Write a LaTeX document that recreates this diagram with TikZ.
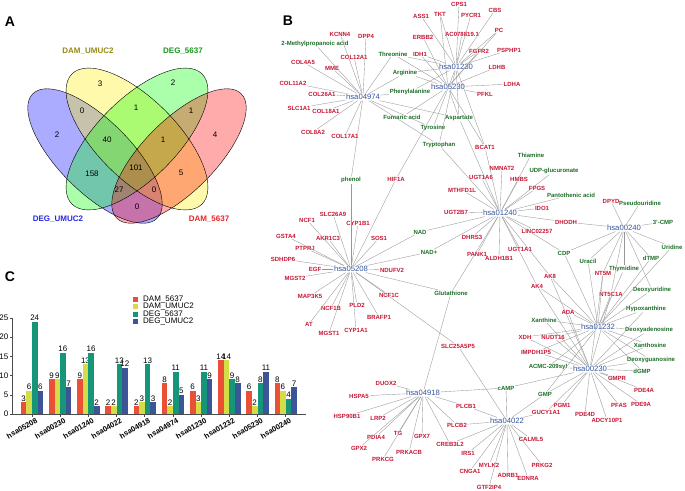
\documentclass[tikz,border=0pt]{standalone}
\usepackage{fontspec}
\setmainfont{Liberation Sans}
\usepackage{tikz}
\usetikzlibrary{arrows}
\usetikzlibrary{calc}

\definecolor{genered}{RGB}{200,22,52}
\definecolor{metgreen}{RGB}{30,110,40}
\definecolor{hubblue}{RGB}{55,85,155}
\definecolor{edgegray}{RGB}{150,150,150}
\definecolor{cdamf}{RGB}{235,80,55}
\definecolor{cdamu}{RGB}{212,220,72}
\definecolor{cdegf}{RGB}{22,150,120}
\definecolor{cdegu}{RGB}{60,85,150}
\definecolor{volive}{RGB}{150,140,20}
\definecolor{vgreen}{RGB}{30,150,30}
\definecolor{vblue}{RGB}{40,40,230}
\definecolor{vred}{RGB}{230,40,40}

\newcommand\genefont{\fontsize{6}{7}\selectfont\bfseries}
\newcommand\hubfont{\fontsize{7.7}{9}\selectfont}

\begin{document}
\begin{tikzpicture}[x=1pt,y=-1pt,
    gene node/.style={text=genered,font=\genefont,inner sep=0.6pt},
    met node/.style={text=metgreen,font=\genefont,inner sep=0.6pt},
    hub node/.style={text=hubblue,font=\hubfont,inner sep=0.6pt},
    link/.style={draw=edgegray,line width=0.35pt},
    panel label/.style={font=\bfseries\fontsize{14}{16}\selectfont},
    set label/.style={font=\bfseries\fontsize{8}{9}\selectfont},
    venn num/.style={font=\fontsize{8}{9}\selectfont},
    bar value/.style={font=\fontsize{8}{9}\selectfont,anchor=south,inner sep=0.8pt},
    tick label/.style={font=\fontsize{8}{9}\selectfont,inner sep=1pt}]
\fill[white] (0,0) rectangle (685,490);
\useasboundingbox (0,0) rectangle (685,490);

\node[panel label] (labA) at (10,22) {A};
\node[panel label] (labB) at (288,21) {B};
\node[panel label] (labC) at (10,277) {C};

% venn diagram
\begin{scope}[fill opacity=0.33]
\fill[blue] (95,156) ellipse [x radius=88pt,y radius=36pt,rotate=-45];
\fill[yellow] (137,139) ellipse [x radius=92pt,y radius=40pt,rotate=-45];
\fill[green] (137,139) ellipse [x radius=92pt,y radius=40pt,rotate=45];
\fill[red] (179,156) ellipse [x radius=88pt,y radius=36pt,rotate=45];
\end{scope}
\begin{scope}[line width=0.4pt]
\draw (95,156) ellipse [x radius=88pt,y radius=36pt,rotate=-45];
\draw (137,139) ellipse [x radius=92pt,y radius=40pt,rotate=-45];
\draw (137,139) ellipse [x radius=92pt,y radius=40pt,rotate=45];
\draw (179,156) ellipse [x radius=88pt,y radius=36pt,rotate=45];
\end{scope}
\node[set label,text=volive] (setDU) at (88,51) {DAM\_UMUC2};
\node[set label,text=vgreen] (setGF) at (183,51) {DEG\_5637};
\node[set label,text=vblue] (setGU) at (58,219) {DEG\_UMUC2};
\node[set label,text=vred] (setDF) at (209,219) {DAM\_5637};
\foreach \px/\py/\t [count=\j] in {100/84/3,173/83/2,82/111/0,136/108/1,191/111/1,57/135/2,107/140/40,163/140/1,215/135/4,92/174/158,136/168/101,181/173/5,119/190/27,154/190/0,137/207/0}
  \node[venn num] (vn\j) at (\px,\py) {\t};

% bar chart
\draw[line width=0.6pt,black!70] (12,414) -- (12,318);
\draw[line width=0.6pt,black!70] (12,414) -- (306,414);
\foreach \t in {0,5,...,25}{
  \draw[line width=0.6pt,black!70] (9.5,{414-3.84*\t}) -- (12,{414-3.84*\t});
  \node[tick label,anchor=east] (yt\t) at (9.5,{414-3.84*\t}) {\t};
}
\foreach \lab/\va/\vb/\vc/\vd [count=\i from 0] in {hsa05208/3/6/24/6,hsa00230/9/9/16/7,hsa01240/9/13/16/2,hsa04022/2/2/13/12,hsa04918/2/3/13/3,hsa04974/8/2/11/5,hsa01230/6/3/11/9,hsa01232/14/14/9/8,hsa05230/6/2/8/11,hsa00240/8/6/4/7}{
  \pgfmathsetmacro\gx{20.7+28.2*\i}
  \foreach \bv/\bc [count=\k from 0] in {\va/cdamf,\vb/cdamu,\vc/cdegf,\vd/cdegu}{
    \pgfmathsetmacro\bx{\gx+5.6*\k}
    \fill[fill=\bc] (\bx,414) rectangle ({\bx+5.6},{414-3.84*\bv});
    \node[bar value] (bv\i\k) at ({\bx+2.8},{414-3.84*\bv}) {\bv};
  }
  \draw[line width=0.6pt,black!70] ({\gx+11.2},414) -- ({\gx+11.2},416.5);
  \node[tick label,font=\bfseries\fontsize{7.5}{8.5}\selectfont,rotate=30,anchor=north east] (xl\i) at ({\gx+15},416) {\lab};
}
\foreach \n/\bc [count=\r from 0] in {DAM\_5637/cdamf,DAM\_UMUC2/cdamu,DEG\_5637/cdegf,DEG\_UMUC2/cdegu}{
  \fill[fill=\bc] (133,{296.5+7.6*\r}) rectangle ++(5,5);
  \node[tick label,anchor=west] (lg\r) at (142,{299+7.6*\r}) {\n};
}

% network: hubs
\node[hub node] (h04974) at (363,97) {hsa04974};
\node[hub node] (h01230) at (456,67) {hsa01230};
\node[hub node] (h05230) at (448,87) {hsa05230};
\node[hub node] (h05208) at (351,269) {hsa05208};
\node[hub node] (h01240) at (500,213) {hsa01240};
\node[hub node] (h00240) at (624,228) {hsa00240};
\node[hub node] (h01232) at (598,327) {hsa01232};
\node[hub node] (h00230) at (590,369) {hsa00230};
\node[hub node] (h04918) at (423,393) {hsa04918};
\node[hub node] (h04022) at (507,421) {hsa04022};

% genes
\node[gene node] (ass1) at (421,16) {ASS1};
\node[gene node] (tkt) at (440,14) {TKT};
\node[gene node] (cps1) at (459,4) {CPS1};
\node[gene node] (pycr1) at (471,15) {PYCR1};
\node[gene node] (cbs) at (495,10) {CBS};
\node[gene node] (ac078) at (462,34) {AC078819.1};
\node[gene node] (pc) at (499,30) {PC};
\node[gene node] (erbb2) at (423,37) {ERBB2};
\node[gene node] (idh1) at (420,54) {IDH1};
\node[gene node] (fgfr2) at (479,51) {FGFR2};
\node[gene node] (psphp1) at (509,50) {PSPHP1};
\node[gene node] (ldhb) at (497,67) {LDHB};
\node[gene node] (ldha) at (512,84) {LDHA};
\node[gene node] (pfkl) at (485,94) {PFKL};
\node[gene node] (bcat1) at (485,147) {BCAT1};
\node[gene node] (kcnn4) at (340,34) {KCNN4};
\node[gene node] (dpp4) at (366,36) {DPP4};
\node[gene node] (col12a1) at (354,57) {COL12A1};
\node[gene node] (col4a5) at (303,62) {COL4A5};
\node[gene node] (mme) at (332,68) {MME};
\node[gene node] (col11a2) at (293,83) {COL11A2};
\node[gene node] (col26a1) at (322,94) {COL26A1};
\node[gene node] (slc1a1) at (299,108) {SLC1A1};
\node[gene node] (col18a1) at (326,111) {COL18A1};
\node[gene node] (col8a2) at (313,132) {COL8A2};
\node[gene node] (col17a1) at (345,136) {COL17A1};
\node[gene node] (hif1a) at (396,179) {HIF1A};
\node[gene node] (slc26a9) at (333,214) {SLC26A9};
\node[gene node] (ncf1) at (307,220) {NCF1};
\node[gene node] (cyp1b1) at (358,223) {CYP1B1};
\node[gene node] (gsta4) at (286,236) {GSTA4};
\node[gene node] (akr1c3) at (328,238) {AKR1C3};
\node[gene node] (sos1) at (379,238) {SOS1};
\node[gene node] (ptprj) at (305,248) {PTPRJ};
\node[gene node] (sdhdp6) at (283,259) {SDHDP6};
\node[gene node] (egf) at (315,269) {EGF};
\node[gene node] (ndufv2) at (392,270) {NDUFV2};
\node[gene node] (mgst2) at (295,278) {MGST2};
\node[gene node,anchor=east] (map3k5) at (323,296) {MAP3K5};
\node[gene node] (ncf1c) at (389,295) {NCF1C};
\node[gene node] (ncf1b) at (331,308) {NCF1B};
\node[gene node] (pld2) at (357,305) {PLD2};
\node[gene node] (brafp1) at (379,317) {BRAFP1};
\node[gene node] (atgene) at (309,324) {AT};
\node[gene node] (mgst1) at (329,333) {MGST1};
\node[gene node] (cyp1a1) at (356,330) {CYP1A1};
\node[gene node] (slc25a5p5) at (458,346) {SLC25A5P5};
\node[gene node] (duox2) at (386,383) {DUOX2};
\node[gene node] (hspa5) at (359,396) {HSPA5};
\node[gene node] (hsp90b1) at (347,416) {HSP90B1};
\node[gene node] (lrp2) at (378,418) {LRP2};
\node[gene node] (pdia4) at (376,437) {PDIA4};
\node[gene node] (tg) at (398,433) {TG};
\node[gene node] (gpx7) at (422,436) {GPX7};
\node[gene node] (gpx2) at (359,448) {GPX2};
\node[gene node] (prkacb) at (409,452) {PRKACB};
\node[gene node] (prkcg) at (383,459) {PRKCG};
\node[gene node] (creb3l2) at (450,444) {CREB3L2};
\node[gene node] (plcb1) at (466,406) {PLCB1};
\node[gene node] (plcb2) at (457,425) {PLCB2};
\node[gene node] (irs1) at (468,453) {IRS1};
\node[gene node] (cnga1) at (470,471) {CNGA1};
\node[gene node] (gucy1a1) at (546,412) {GUCY1A1};
\node[gene node] (calml5) at (531,439) {CALML5};
\node[gene node] (mylk2) at (489,465) {MYLK2};
\node[gene node] (prkg2) at (542,465) {PRKG2};
\node[gene node] (adrb1) at (508,475) {ADRB1};
\node[gene node] (ednra) at (528,478) {EDNRA};
\node[gene node] (gtf2ip4) at (489,487) {GTF2IP4};
\node[gene node] (pgm1) at (562,405) {PGM1};
\node[gene node] (pde4d) at (585,414) {PDE4D};
\node[gene node] (adcy10p1) at (607,420) {ADCY10P1};
\node[gene node] (pfas) at (619,405) {PFAS};
\node[gene node] (pde9a) at (641,404) {PDE9A};
\node[gene node] (pde4a) at (644,390) {PDE4A};
\node[gene node] (gmpr) at (617,378) {GMPR};
\node[gene node] (impdh) at (536,352) {IMPDH1P5};
\node[gene node] (xdh) at (525,337) {XDH};
\node[gene node] (nudt16) at (553,337) {NUDT16};
\node[gene node] (ada) at (568,312) {ADA};
\node[gene node] (nmnat2) at (502,168) {NMNAT2};
\node[gene node] (ugt1a6) at (481,177) {UGT1A6};
\node[gene node] (hmbs) at (519,179) {HMBS};
\node[gene node] (fpgs) at (537,188) {FPGS};
\node[gene node] (mthfd1l) at (462,190) {MTHFD1L};
\node[gene node] (dpyd) at (611,201) {DPYD};
\node[gene node] (ugt2b7) at (456,212) {UGT2B7};
\node[gene node] (ido1) at (542,208) {IDO1};
\node[gene node] (dhodh) at (566,222) {DHODH};
\node[gene node] (linc) at (537,231) {LINC02257};
\node[gene node] (dhrs3) at (472,237) {DHRS3};
\node[gene node] (ugt1a1) at (520,249) {UGT1A1};
\node[gene node] (pank1) at (477,254) {PANK1};
\node[gene node] (aldh1b1) at (499,258) {ALDH1B1};
\node[gene node] (nt5m) at (603,273) {NT5M};
\node[gene node] (ak8) at (550,276) {AK8};
\node[gene node] (ak4) at (537,286) {AK4};
\node[gene node] (nt5c1a) at (611,294) {NT5C1A};

% metabolites
\node[met node] (mpa) at (315,44) {2-Methylpropanoic acid};
\node[met node] (thr) at (393,54) {Threonine};
\node[met node] (arg) at (405,73) {Arginine};
\node[met node] (phe) at (410,92) {Phenylalanine};
\node[met node] (fum) at (402,117) {Fumaric acid};
\node[met node] (asp) at (459,118) {Aspartate};
\node[met node] (tyr) at (433,128) {Tyrosine};
\node[met node] (trp) at (439,145) {Tryptophan};
\node[met node] (phenol) at (351,180) {phenol};
\node[met node] (nad) at (420,232) {NAD};
\node[met node] (nadp) at (429,252) {NAD+};
\node[met node] (glut) at (451,293) {Glutathione};
\node[met node] (camp) at (506,388) {cAMP};
\node[met node] (gmp) at (545,394) {GMP};
\node[met node] (dgmp) at (642,371) {dGMP};
\node[met node] (acmc) at (548,367) {ACMC-209syl};
\node[met node] (xan) at (544,320) {Xanthine};
\node[met node] (dguo) at (651,360) {Deoxyguanosine};
\node[met node] (xao) at (650,345) {Xanthosine};
\node[met node] (dado) at (649,330) {Deoxyadenosine};
\node[met node] (hyp) at (646,309) {Hypoxanthine};
\node[met node] (dur) at (652,290) {Deoxyuridine};
\node[met node] (thiamine) at (531,155) {Thiamine};
\node[met node] (udpg) at (554,171) {UDP-glucuronate};
\node[met node] (panto) at (571,195) {Pantothenic acid};
\node[met node] (pseudo) at (640,203) {Pseudouridine};
\node[met node] (cmp) at (663,222) {3'-CMP};
\node[met node] (uridine) at (672,247) {Uridine};
\node[met node] (cdp) at (564,253) {CDP};
\node[met node] (uracil) at (588,261) {Uracil};
\node[met node] (dtmp) at (651,258) {dTMP};
\node[met node] (thymidine) at (624,269) {Thymidine};

% links
\foreach \n in {kcnn4,dpp4,col12a1,col4a5,mme,col11a2,col26a1,slc1a1,col18a1,col8a2,col17a1,mpa,thr,arg,phe,tyr,trp,asp,phenol}
  \draw[link] (h04974) -- (\n);
\foreach \n in {ass1,tkt,cps1,pycr1,cbs,ac078,pc,psphp1,idh1,bcat1,fgfr2,thr,arg,phe,tyr,trp,asp}
  \draw[link] (h01230) -- (\n);
\foreach \n in {erbb2,ldhb,ldha,pfkl,pc,tkt,idh1,fgfr2,hif1a,fum,asp,arg,phe,thr,bcat1}
  \draw[link] (h05230) -- (\n);
\foreach \n in {slc26a9,ncf1,cyp1b1,gsta4,akr1c3,sos1,ptprj,sdhdp6,egf,ndufv2,mgst2,map3k5,ncf1c,ncf1b,pld2,brafp1,atgene,mgst1,cyp1a1,hif1a,phenol,nad,nadp,glut,slc25a5p5}
  \draw[link] (h05208) -- (\n);
\foreach \n in {thiamine,nmnat2,udpg,ugt1a6,hmbs,fpgs,mthfd1l,panto,ugt2b7,ido1,dhodh,linc,dhrs3,ugt1a1,pank1,aldh1b1,bcat1,nad,nadp,glut,asp,trp,cdp,ak8,ak4}
  \draw[link] (h01240) -- (\n);
\foreach \n in {dpyd,pseudo,cmp,uridine,dtmp,thymidine,uracil,cdp,dhodh,nt5m,nt5c1a,dur}
  \draw[link] (h00240) -- (\n);
\foreach \n in {cdp,uracil,nt5m,thymidine,dtmp,uridine,dur,nt5c1a,hyp,dado,xao,dguo,dgmp,ada,xan,xdh,nudt16,impdh,ak8,ak4,gmp,acmc}
  \draw[link] (h01232) -- (\n);
\foreach \n in {ada,xan,xdh,nudt16,impdh,acmc,dado,xao,dguo,hyp,dgmp,gmpr,pde4a,pde9a,pfas,adcy10p1,pde4d,pgm1,gucy1a1,gmp,camp,nt5m,nt5c1a,ak8,ak4}
  \draw[link] (h00230) -- (\n);
\foreach \n in {camp,gmp,slc25a5p5,plcb1,plcb2,creb3l2,irs1,mylk2,cnga1,gtf2ip4,adrb1,ednra,prkg2,calml5,gucy1a1}
  \draw[link] (h04022) -- (\n);
\foreach \n in {duox2,hspa5,hsp90b1,lrp2,pdia4,tg,gpx7,gpx2,prkacb,prkcg,creb3l2,plcb1,plcb2,camp,glut}
  \draw[link] (h04918) -- (\n);
\end{tikzpicture}
\end{document}
